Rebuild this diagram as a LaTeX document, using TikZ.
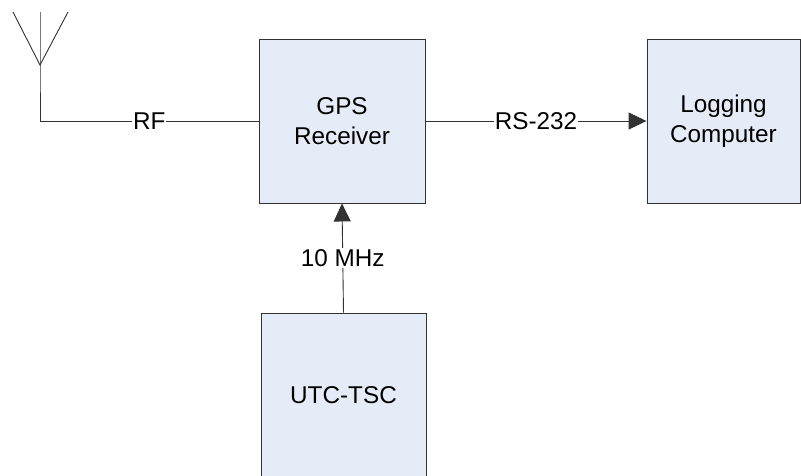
\documentclass[tikz,border=0pt]{standalone}
\usepackage{fontspec}
\setmainfont{Liberation Sans}
\usetikzlibrary{arrows.meta}
\definecolor{boxfill}{RGB}{230,236,247}
\definecolor{edge}{RGB}{50,50,50}
\begin{document}
\begin{tikzpicture}[x=1pt,y=-1pt,
  every node/.style={font=\fontsize{24.3}{29.5}\selectfont},
  block/.style={draw=edge,fill=boxfill,line width=0.9pt,minimum width=166pt,minimum height=164pt,align=center,inner sep=0pt},
  wire/.style={draw=edge,line width=0.9pt},
  lbl/.style={fill=white,inner sep=1pt,text=black},
  tip/.style={-{Triangle[length=18pt,width=17pt]}}]
\useasboundingbox (0,0) rectangle (801,475);
\clip (0,0) rectangle (801,475);
\fill[white] (0,0) rectangle (801,475);

% blocks
\node[block] (gps) at (342,121) {GPS\\Receiver};
\node[block,minimum width=153pt] (log) at (723.5,121) {Logging\\Computer};
\node[block,minimum width=165pt] (utc) at (343.5,395) {UTC-TSC};

% antenna symbol
\coordinate (feed) at (40,121);
\coordinate (apex) at (40,65);
\coordinate (mast) at (40,12);
\coordinate (armL) at (13,12);
\coordinate (armR) at (68,12);
\draw[wire] (mast) -- (apex) -- (feed);
\draw[wire] (armL) -- (apex) -- (armR);

% signal paths
\draw[wire] (feed) -- node[lbl] {RF} (gps.west);
\draw[wire,tip] (gps.east) -- node[lbl] {RS-232} (log.west);
\draw[wire,tip] (utc.north) -- node[lbl] {10 MHz} (gps.south);
\end{tikzpicture}
\end{document}
